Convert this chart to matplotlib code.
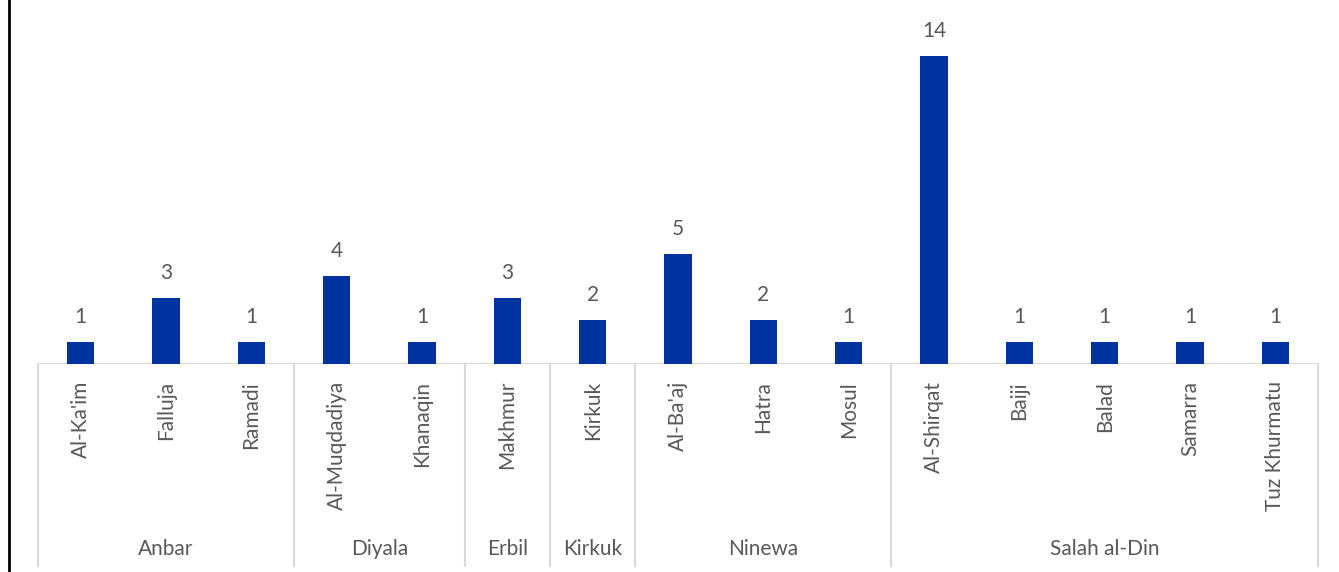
import numpy as np
import matplotlib
matplotlib.use("Agg")
from matplotlib import pyplot as plt
from matplotlib.lines import Line2D

# data
groups = ["Anbar", "Diyala", "Erbil", "Kirkuk", "Ninewa", "Salah al-Din"]
group_sizes = [3, 2, 1, 1, 3, 5]
districts = ["Al-Ka'im", "Falluja", "Ramadi",
             "Al-Muqdadiya", "Khanaqin",
             "Makhmur",
             "Kirkuk",
             "Al-Ba'aj", "Hatra", "Mosul",
             "Al-Shirqat", "Baiji", "Balad", "Samarra", "Tuz Khurmatu"]
counts = [1, 3, 1, 4, 1, 3, 2, 5, 2, 1, 14, 1, 1, 1, 1]

plt.rcParams['font.family'] = ['Lato', 'DejaVu Sans']
text_col = "#595959"
line_col = "#d9d9d9"
bar_col = "#0033a0"

W, H = 1339, 572
fig = plt.figure(figsize=(W / 100, H / 100), dpi=100)

# axes placed in pixel terms
left, right, base, top = 38, 1318, 364, 12
ax = fig.add_axes([left / W, (H - base) / H, (right - left) / W, (base - top) / H])

x = np.arange(len(districts))
bars = ax.bar(x, counts, width=0.32, color=bar_col, zorder=3)
ax.set_xlim(-0.5, len(districts) - 0.5)
ax.set_ylim(0, (base - top) / 22.0)

for b, v in zip(bars, counts):
  ax.annotate(str(v), (b.get_x() + b.get_width() / 2, v), xytext=(0, 11),
              textcoords="offset points", ha="center", va="bottom",
              fontsize=15, color=text_col)

for s in ax.spines.values():
  s.set_visible(False)
ax.set_xticks([])
ax.set_yticks([])

# axis base line
ax.axhline(0, color=line_col, lw=1.5, zorder=2)

# helper: pixels below the baseline -> axes fraction
ah = base - top
def ybelow(px):
  return -px / ah

trans = ax.get_xaxis_transform()

# district labels, rotated
for xi, name in zip(x, districts):
  ax.text(xi, ybelow(17), name, rotation=90, ha="center", va="top",
          fontsize=15, color=text_col, transform=trans, clip_on=False)

# group separators and labels
edges = np.concatenate([[0], np.cumsum(group_sizes)]) - 0.5
for e in edges:
  ax.add_line(Line2D([e, e], [0, ybelow(202)], color=line_col, lw=1.5,
                     transform=trans, clip_on=False))
for g, a, b in zip(groups, edges[:-1], edges[1:]):
  ax.text((a + b) / 2, ybelow(185), g, ha="center", va="center",
          fontsize=15, color=text_col, transform=trans, clip_on=False)

# dark frame edge on the left
fig.add_artist(Line2D([9 / W, 9 / W], [0, 1], color="black", lw=2,
                      transform=fig.transFigure))

fig.savefig("out.png", dpi=100)
